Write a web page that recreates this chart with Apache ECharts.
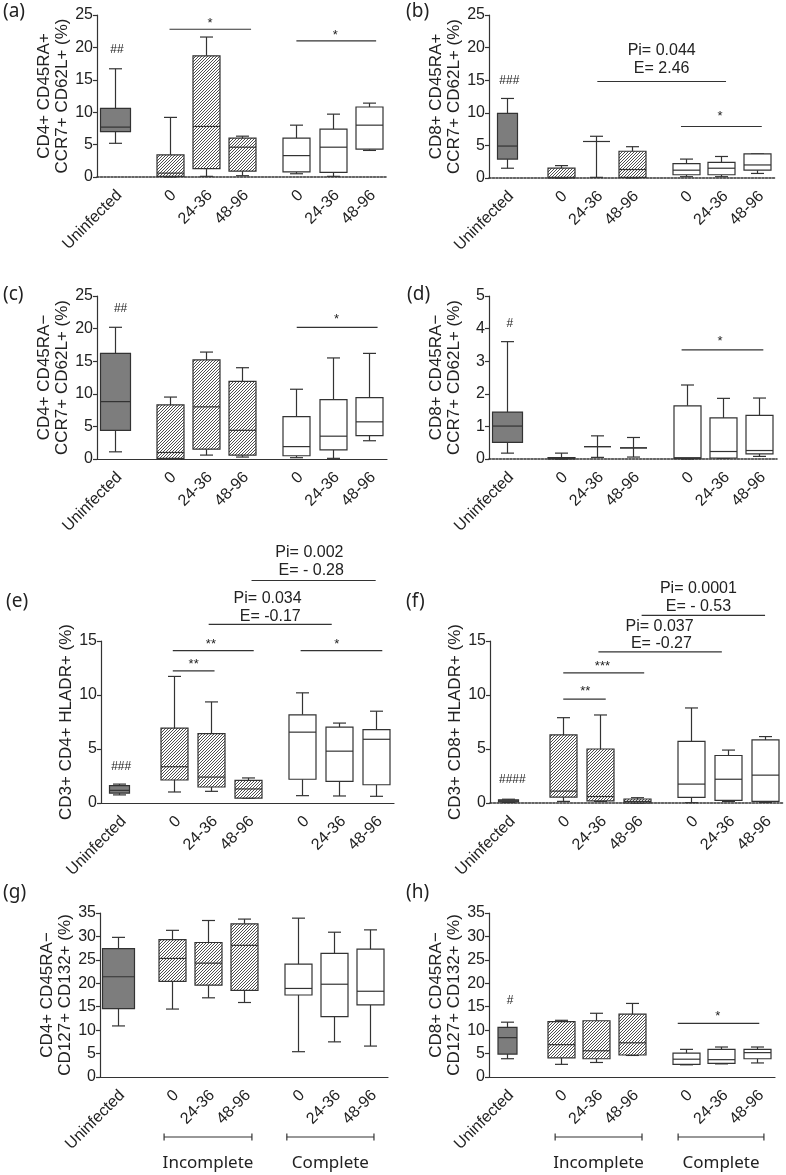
<!DOCTYPE html>
<html><head><meta charset="utf-8">
<script src="https://cdn.jsdelivr.net/npm/echarts@6/dist/echarts.min.js"></script>
<style>html,body{margin:0;padding:0;background:#fff}#c{width:786px;height:1175px}</style>
</head><body><div id="c"></div>
<script>
// ---------- DATA ----------
const categories = ['Uninfected', '0', '24-36', '48-96', '0', '24-36', '48-96'];
const groupLabels = ['Incomplete', 'Complete'];

// box stats per group: [min, Q1, median, Q3, max]
const statsA = [[5.2,7.0,7.7,10.6,16.7],[0,0.1,0.6,3.4,9.2],[0.1,1.3,7.8,18.7,21.6],[0.2,0.9,4.6,6.0,6.3],[0.5,0.8,3.3,6.0,8.0],[0.1,0.7,4.6,7.4,9.7],[4.1,4.3,8.0,10.8,11.4]];
const statsB = [[1.5,2.9,4.9,9.9,12.2],[0,0,0.1,1.5,1.9],[0.1,5.6,5.6,5.6,6.4],[0,0.1,1.3,4.1,4.8],[0.2,0.5,1.2,2.2,2.9],[0.2,0.5,1.5,2.4,3.3],[0.7,1.2,2.0,3.7,3.7]];
const statsC = [[1.1,4.4,8.8,16.2,20.2],[0,0.1,1.0,8.3,9.5],[0.6,1.5,8.0,15.2,16.4],[0.3,0.6,4.4,11.9,14.0],[0.2,0.5,1.9,6.5,10.7],[0.1,1.4,3.5,9.1,15.5],[2.8,3.6,5.7,9.4,16.2]];
const statsD = [[0.18,0.51,1.01,1.44,3.6],[0,0,0.02,0.04,0.18],[0.05,0.38,0.38,0.38,0.71],[0.06,0.34,0.34,0.34,0.66],[0,0.01,0.04,1.63,2.27],[0.02,0.03,0.23,1.26,1.86],[0.08,0.16,0.26,1.34,1.87]];
const statsE = [[0.75,0.92,1.17,1.6,1.75],[1.02,2.13,3.36,6.94,11.72],[1.08,1.48,2.4,6.43,9.36],[0.45,0.46,1.3,2.1,2.32],[0.68,2.2,6.56,8.16,10.2],[0.65,2.0,4.8,7.03,7.4],[0.62,1.69,5.9,6.8,8.5]];
const statsF = [[0.05,0.1,0.2,0.3,0.35],[0.15,0.55,1.1,6.3,7.9],[0.15,0.2,0.6,5.0,8.15],[0,0.02,0.15,0.37,0.49],[0.03,0.52,1.75,5.7,8.8],[0.15,0.25,2.2,4.4,4.9],[0.06,0.15,2.58,5.84,6.15]];
const statsG = [[10.9,14.6,21.4,27.4,29.8],[14.5,20.4,25.3,29.3,31.3],[16.9,19.6,24.3,28.7,33.4],[15.9,18.5,28.1,32.7,33.7],[5.4,17.5,18.9,24.1,33.9],[7.5,12.9,19.8,26.4,30.9],[6.6,15.4,18.3,27.3,31.4]];
const statsH = [[3.9,4.9,8.4,10.6,11.7],[2.7,4.1,6.9,11.8,12.1],[3.1,3.9,5.6,12.0,13.6],[4.6,4.7,7.3,13.4,15.7],[2.6,2.7,3.8,5.1,5.9],[2.8,2.9,3.7,5.9,6.4],[3.0,3.9,5.2,5.9,6.4]];

// significance brackets: [from, to, y]
const bracketsA = [[1.5,3.75,22.8],[5.0,7.2,21.0]];
const bracketsB = [[2.53,6.13,14.8],[4.87,7.13,7.9]];
const bracketsC = [[5.01,7.24,20.2]];
const bracketsD = [[4.85,7.12,3.35]];
const bracketsE = [[1.46,2.6,12.23],[1.46,3.67,14.1],[4.95,7.18,14.1],[2.44,5.8,16.54],[3.61,7.0,20.6]];
const bracketsF = [[1.5,2.66,9.62],[1.5,3.71,12.05],[2.46,5.83,13.99],[3.64,7.01,17.37]];
const bracketsG = [];
const bracketsH = [[4.78,7.06,11.43]];

// annotation texts: [x, y, text]
const notesA = [[0.05,19.6,'##'],[2.62,24.2,'*'],[6.07,22.3,'*']];
const notesB = [[0.07,15.0,'###'],[4.33,19.6,'Pi= 0.044'],[4.33,16.8,'E= 2.46'],[5.96,9.9,'*']];
const notesC = [[0.15,23.0,'##'],[6.11,21.8,'*']];
const notesD = [[0.08,4.16,'#'],[5.92,3.70,'*']];
const notesE = [[0.05,3.39,'###'],[2.03,13.1,'**'],[2.5,15.0,'**'],[5.94,15.0,'*'],[4.05,18.94,'Pi= 0.034'],[4.12,17.25,'E= -0.17'],[5.19,23.2,'Pi= 0.002'],[5.24,21.5,'E= - 0.28']];
const notesF = [[0.11,2.15,'####'],[2.1,10.6,'**'],[2.57,12.91,'***'],[4.13,16.35,'Pi= 0.037'],[4.18,14.76,'E= -0.27'],[5.19,19.83,'Pi= 0.0001'],[5.19,18.2,'E= - 0.53']];
const notesG = [];
const notesH = [[0.09,16.2,'#'],[5.9,13.6,'*']];

// group brackets under the last row: [from, to]
const groupSpanG = [[1.28,3.72],[4.69,7.11]];
const groupSpanH = [[1.35,3.78],[4.79,7.19]];

// ---------- LAYOUT / STYLE ----------
const SLOT = [0, 1.5, 2.5, 3.5, 5, 6, 7];
const INK = '#333';
const AX_FONT = 'Liberation Sans';
const LET_FONT = 'Noto Sans';

const panels = [
  {letter:'(a)', lp:[3,2],   stats:statsA, br:bracketsA, notes:notesA, name:'CD4+ CD45RA+\nCCR7+ CD62L+ (%)', max:25, step:5, grid:{left:97,top:15,width:290,height:162}, dotted:true, uw:30},
  {letter:'(b)', lp:[406,2], stats:statsB, br:bracketsB, notes:notesB, name:'CD8+ CD45RA+\nCCR7+ CD62L+ (%)', max:25, step:5, grid:{left:489,top:15,width:286,height:163}, dotted:true, uw:20},
  {letter:'(c)', lp:[3,285], stats:statsC, br:bracketsC, notes:notesC, name:'CD4+ CD45RA\u2212\nCCR7+ CD62L+ (%)', max:25, step:5, grid:{left:97,top:296,width:290,height:163}, dotted:false, uw:30},
  {letter:'(d)', lp:[407,285], stats:statsD, br:bracketsD, notes:notesD, name:'CD8+ CD45RA\u2212\nCCR7+ CD62L+ (%)', max:5, step:1, grid:{left:489,top:296,width:288,height:163}, dotted:true, uw:30},
  {letter:'(e)', lp:[6,592], stats:statsE, br:bracketsE, notes:notesE, name:'CD3+ CD4+ HLADR+ (%)', max:15, step:5, grid:{left:101,top:641,width:293,height:162}, dotted:false, uw:20},
  {letter:'(f)', lp:[406,592], stats:statsF, br:bracketsF, notes:notesF, name:'CD3+ CD8+ HLADR+ (%)', max:15, step:5, grid:{left:490,top:641,width:293,height:162}, dotted:true, uw:20},
  {letter:'(g)', lp:[3,883], stats:statsG, br:bracketsG, notes:notesG, name:'CD4+ CD45RA\u2212\nCD127+ CD132+ (%)', max:35, step:5, grid:{left:100,top:913,width:288,height:164}, dotted:false, uw:32, groups:groupSpanG},
  {letter:'(h)', lp:[406,883], stats:statsH, br:bracketsH, notes:notesH, name:'CD8+ CD45RA\u2212\nCD127+ CD132+ (%)', max:35, step:5, grid:{left:489,top:913,width:286,height:164}, dotted:false, uw:19, groups:groupSpanH}
];

function makeHatch() {
  const s = 3, cv = document.createElement('canvas');
  cv.width = s; cv.height = s;
  const g = cv.getContext('2d');
  g.fillStyle = '#fff'; g.fillRect(0, 0, s, s);
  g.strokeStyle = '#3a3a3a'; g.lineWidth = 0.9;
  g.beginPath();
  g.moveTo(0, s); g.lineTo(s, 0);
  g.moveTo(-1, 1); g.lineTo(1, -1);
  g.moveTo(s - 1, s + 1); g.lineTo(s + 1, s - 1);
  g.stroke();
  return cv;
}
const HATCH = makeHatch();

function boxRenderer(p) {
  return function (params, api) {
    const i = params.dataIndex;
    const x = api.value(0);
    const mn = api.value(1), q1 = api.value(2), md = api.value(3), q3 = api.value(4), mx = api.value(5);
    const cx = Math.round(api.coord([x, 0])[0]) + 0.5;
    const y = v => api.coord([x, v])[1];
    const w = i === 0 ? p.uw : 27;
    const cap = 13;
    const fill = i === 0 ? '#7d7d7d' : (i <= 3 ? {image: HATCH, repeat: 'repeat'} : '#fff');
    const ls = {stroke: INK, lineWidth: 1.2};
    return {type: 'group', children: [
      {type: 'line', shape: {x1: cx, y1: y(q3), x2: cx, y2: y(mx)}, style: ls},
      {type: 'line', shape: {x1: cx - cap / 2, y1: y(mx), x2: cx + cap / 2, y2: y(mx)}, style: ls},
      {type: 'line', shape: {x1: cx, y1: y(q1), x2: cx, y2: y(mn)}, style: ls},
      {type: 'line', shape: {x1: cx - cap / 2, y1: y(mn), x2: cx + cap / 2, y2: y(mn)}, style: ls},
      {type: 'rect', shape: {x: cx - w / 2, y: y(q3), width: w, height: y(q1) - y(q3)}, style: {fill: fill, stroke: INK, lineWidth: 1.2}},
      {type: 'line', shape: {x1: cx - w / 2, y1: y(md), x2: cx + w / 2, y2: y(md)}, style: ls}
    ]};
  };
}

function bracketRenderer(params, api) {
  const a = api.coord([api.value(0), api.value(2)]);
  const b = api.coord([api.value(1), api.value(2)]);
  return {type: 'line', shape: {x1: a[0], y1: a[1], x2: b[0], y2: b[1]}, style: {stroke: INK, lineWidth: 1.2}};
}

function noteRenderer(notes) {
  return function (params, api) {
    const t = notes[params.dataIndex][2];
    const pt = api.coord([api.value(0), api.value(1)]);
    const big = /^(Pi|E)/.test(t);
    const star = /^\*+$/.test(t);
    return {type: 'text', x: pt[0], y: pt[1] + (star ? 3 : 0), style: {
      text: t, align: 'center', verticalAlign: 'middle', fill: '#222',
      font: (big ? '16px ' : (star ? '13px ' : '12px ')) + "'" + AX_FONT + "'"
    }};
  };
}

function groupRenderer(params, api) {
  const x1 = api.value(0), x2 = api.value(1);
  const a = api.coord([x1, 0]), b = api.coord([x2, 0]);
  const yl = a[1] + 60, yt = a[1] + 86;
  const ls = {stroke: INK, lineWidth: 1.2};
  return {type: 'group', children: [
    {type: 'line', shape: {x1: a[0], y1: yl, x2: b[0], y2: yl}, style: ls},
    {type: 'line', shape: {x1: a[0], y1: yl - 3.5, x2: a[0], y2: yl + 3.5}, style: ls},
    {type: 'line', shape: {x1: b[0], y1: yl - 3.5, x2: b[0], y2: yl + 3.5}, style: ls},
    {type: 'text', x: (a[0] + b[0]) / 2, y: yt, style: {text: groupLabels[params.dataIndex], align: 'center', verticalAlign: 'middle', fill: '#222', font: "17px '" + LET_FONT + "'"}}
  ]};
}

const option = {animation: false, backgroundColor: '#fff', title: [], grid: [], xAxis: [], yAxis: [], series: []};

panels.forEach((p, k) => {
  option.title.push({text: p.letter, left: p.lp[0], top: p.lp[1], textStyle: {fontFamily: LET_FONT, fontSize: 19, fontWeight: 'normal', color: '#222'}, padding: 0});
  option.grid.push(Object.assign({containLabel: false}, p.grid));
  option.xAxis.push({
    type: 'value', gridIndex: k, min: -0.5, max: 7.5, interval: 0.5,
    splitLine: {show: false}, axisTick: {show: false},
    axisLine: {onZero: false, lineStyle: {color: INK, width: p.dotted ? 1.6 : 1.2, type: p.dotted ? [2, 1.5] : 'solid'}},
    axisLabel: {rotate: 45, margin: 20, fontSize: 16, color: '#222', fontFamily: AX_FONT, padding: [0, -6, 0, 0],
      showMinLabel: true, showMaxLabel: true,
      formatter: v => { const j = SLOT.indexOf(v); return j >= 0 ? categories[j] : ''; }}
  });
  option.yAxis.push({
    type: 'value', gridIndex: k, min: 0, max: p.max, interval: p.step,
    splitLine: {show: false},
    axisLine: {show: true, onZero: false, lineStyle: {color: INK, width: 1.2}},
    axisTick: {show: true, length: 4, lineStyle: {color: INK, width: 1.2}},
    axisLabel: {fontSize: 16, color: '#222', fontFamily: AX_FONT, margin: 4},
    name: p.name, nameLocation: 'middle', nameRotate: 90, nameGap: 26,
    nameTextStyle: {fontSize: 17, color: '#222', fontFamily: AX_FONT, lineHeight: 18}
  });
  option.series.push({
    type: 'custom', xAxisIndex: k, yAxisIndex: k, renderItem: boxRenderer(p),
    data: p.stats.map((s, i) => [SLOT[i]].concat(s)), encode: {x: 0, y: [1, 2, 3, 4, 5]}, z: 3
  });
  if (p.br.length) option.series.push({
    type: 'custom', xAxisIndex: k, yAxisIndex: k, renderItem: bracketRenderer, clip: false,
    data: p.br, encode: {x: [0, 1], y: 2}, z: 4
  });
  if (p.notes.length) option.series.push({
    type: 'custom', xAxisIndex: k, yAxisIndex: k, renderItem: noteRenderer(p.notes), clip: false,
    data: p.notes.map(n => [n[0], n[1]]), encode: {x: 0, y: 1}, z: 4
  });
  if (p.groups) option.series.push({
    type: 'custom', xAxisIndex: k, yAxisIndex: k, renderItem: groupRenderer, clip: false,
    data: p.groups, encode: {x: [0, 1]}, z: 4
  });
});

const chart = echarts.init(document.getElementById('c'), null, {renderer: 'canvas'});
chart.setOption(option);
</script></body></html>
